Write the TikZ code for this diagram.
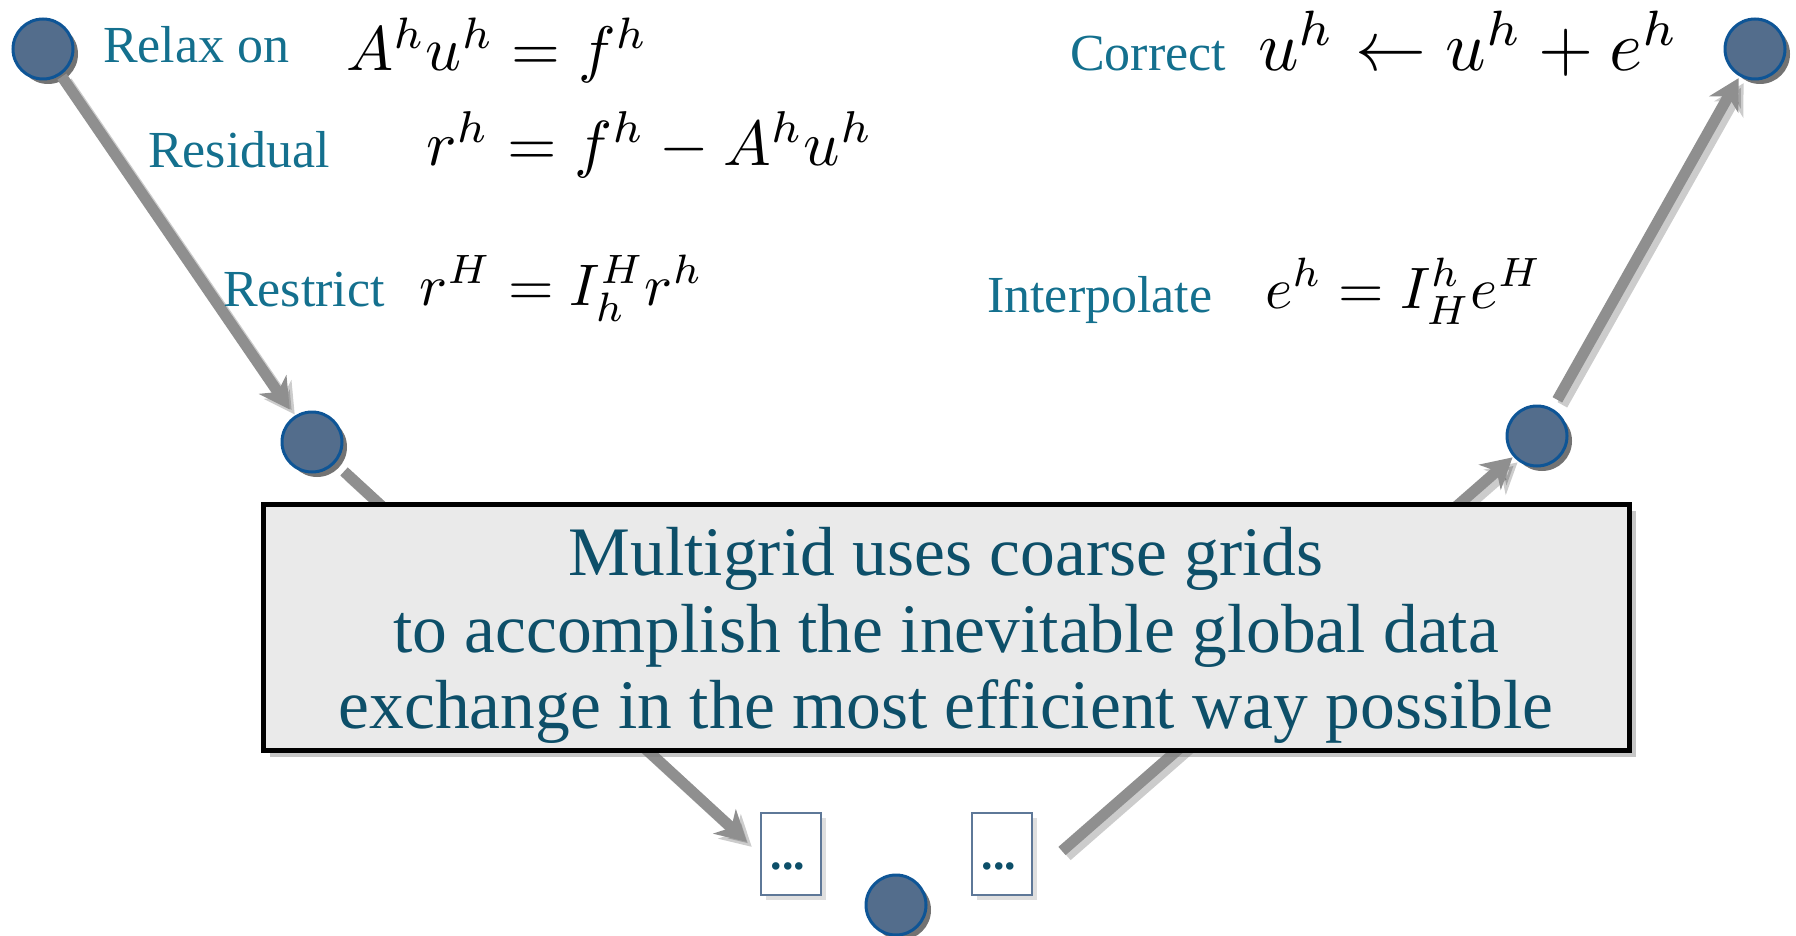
\documentclass[tikz,border=0pt]{standalone}
\usepackage[no-math]{fontspec}
\setmainfont{Liberation Serif}
\usepackage{graphicx}
\usetikzlibrary{shadows,arrows.meta}

\definecolor{lbl}{HTML}{14708E}
\definecolor{mtxt}{HTML}{0D4F69}
\definecolor{cfill}{HTML}{536D8C}
\definecolor{cdraw}{HTML}{0E5596}
\definecolor{agray}{HTML}{8F8F8F}
\definecolor{bxfill}{HTML}{EAEAEA}
\definecolor{dbox}{HTML}{5E7898}

\tikzset{
  vcirc/.style={circle, minimum size=60pt, inner sep=0pt, fill=cfill, draw=cdraw, line width=3pt,
    drop shadow={shadow xshift=5pt, shadow yshift=-5pt, opacity=0.55, fill=black}},
  lbltext/.style={anchor=base west, inner sep=0pt, text=lbl, font=\fontsize{52}{60}\selectfont},
  eqn/.style={anchor=base west, inner sep=0pt},
  arr/.style={draw=agray, line width=11pt, -{Stealth[length=30pt, width=33pt, inset=9pt]}},
  arrsh/.style={draw=black, opacity=0.2, line width=11pt, -{Stealth[length=30pt, width=33pt, inset=9pt]},
    transform canvas={shift={(5pt,-5pt)}}},
  dotbox/.style={draw=dbox, line width=2pt, fill=white, minimum width=60pt, minimum height=82pt, inner sep=0pt,
    drop shadow={shadow xshift=5pt, shadow yshift=-5pt, opacity=0.25}},
  dots/.style={anchor=base, inner sep=0pt, text=mtxt, font=\fontsize{46}{50}\selectfont\bfseries},
  mainbox/.style={draw=black, line width=5pt, fill=bxfill, minimum width=1366pt, minimum height=246pt, inner sep=0pt,
    drop shadow={shadow xshift=7pt, shadow yshift=-7pt, opacity=0.45}},
  maintext/.style={anchor=base, inner sep=0pt, text=mtxt, font=\fontsize{69.5}{77}\selectfont},
}

\begin{document}
\begin{tikzpicture}[x=1pt, y=-1pt]
\useasboundingbox (0,0) rectangle (1796,936);

% circles
\node[vcirc] (c1) at (43,49) {};
\node[vcirc] (c2) at (312,442) {};
\node[vcirc] (c3) at (896,905) {};
\node[vcirc] (c4) at (1537,436) {};
\node[vcirc] (c5) at (1755,49) {};

% dot boxes
\node[dotbox] (d1) at (791,854) {};
\node[dotbox] (d2) at (1002,854) {};
\node[dots] (d1t) at (788,869) {...};
\node[dots] (d2t) at (999,869) {...};

\coordinate (a3s) at (1062,851);

% arrows (shadows)
\draw[arrsh, shorten <=2pt, shorten >=8pt] (c1) -- (c2);
\draw[arrsh, shorten <=12pt, shorten >=18pt] (c2) -- (d1.west);
\draw[arrsh, shorten >=1pt] (a3s) -- (c4);
\draw[arrsh, shorten <=10pt, shorten >=2pt] (c4) -- (c5);
% arrows
\draw[arr, shorten <=2pt, shorten >=8pt] (c1) -- (c2);
\draw[arr, shorten <=12pt, shorten >=18pt] (c2) -- (d1.west);
\draw[arr, shorten >=1pt] (a3s) -- (c4);
\draw[arr, shorten <=10pt, shorten >=2pt] (c4) -- (c5);

% main box
\node[mainbox] (mb) at (946,627) {};
\node[maintext] (t1) at (946,575) {Multigrid uses coarse grids};
\node[maintext] (t2) at (946,652) {to accomplish the inevitable global data};
\node[maintext] (t3) at (946,728) {exchange in the most efficient way possible};

% labels
\node[lbltext] (l1) at (103,63) {Relax on};
\node[lbltext] (l2) at (148,168) {Residual};
\node[lbltext] (l3) at (223,306) {Restrict};
\node[lbltext] (l4) at (1070,71) {Correct};
\node[lbltext] (l5) at (987,312) {Interpolate};

% equations
\node[eqn] (e1) at (346,71) {\resizebox{302pt}{!}{$A^hu^h=f^h$}};
\node[eqn] (e2) at (426,166) {\resizebox{447pt}{!}{$r^h=f^h-A^hu^h$}};
\node[eqn] (e3) at (419,305) {\resizebox{284pt}{!}{$r^H=I_h^Hr^h$}};
\node[eqn] (e4) at (1258,71) {\resizebox{421pt}{!}{$u^h\leftarrow u^h+e^h$}};
\node[eqn] (e5) at (1265,308) {\resizebox{277pt}{!}{$e^h=I_H^he^H$}};
\end{tikzpicture}
\end{document}
